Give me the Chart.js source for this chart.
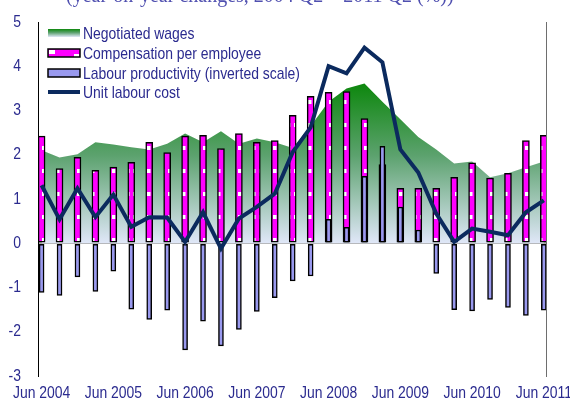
<!DOCTYPE html>
<html>
<head>
<meta charset="utf-8">
<script src="https://cdn.jsdelivr.net/npm/chart.js@4.4.0/dist/chart.umd.min.js"></script>
<style>
    html, body { margin: 0; padding: 0; background: #fff; }
    #wrap { width: 570px; height: 403px; }
</style>
</head>
<body>
<div id="wrap"><canvas id="myChart" width="570" height="403"></canvas></div>
<script>
// quarters, Jun 2004 - Jun 2011
var quarters = ["Jun 2004", "Sep 2004", "Dec 2004", "Mar 2005", "Jun 2005", "Sep 2005", "Dec 2005", "Mar 2006",
    "Jun 2006", "Sep 2006", "Dec 2006", "Mar 2007", "Jun 2007", "Sep 2007", "Dec 2007", "Mar 2008",
    "Jun 2008", "Sep 2008", "Dec 2008", "Mar 2009", "Jun 2009", "Sep 2009", "Dec 2009", "Mar 2010",
    "Jun 2010", "Sep 2010", "Dec 2010", "Mar 2011", "Jun 2011"];
var tickLabels = ["Jun 2004", "Jun 2005", "Jun 2006", "Jun 2007", "Jun 2008", "Jun 2009", "Jun 2010", "Jun 2011"];
var yTicks = [-3, -2, -1, 0, 1, 2, 3, 4, 5];

var negotiatedWages = [2.10, 1.94, 2.01, 2.28, 2.23, 2.17, 2.12, 2.25, 2.48, 2.28, 2.53, 2.25, 2.37, 2.28, 2.15,
    2.65, 3.20, 3.50, 3.61, 3.20, 2.80, 2.40, 2.12, 1.80, 1.85, 1.49, 1.58, 1.72, 1.85];
var compensation = [2.42, 1.69, 1.94, 1.65, 1.72, 1.83, 2.28, 2.05, 2.42, 2.44, 2.14, 2.48, 2.28, 2.32, 2.89,
    3.32, 3.41, 3.43, 2.82, 1.78, 1.24, 1.24, 1.24, 1.49, 1.82, 1.47, 1.58, 2.32, 2.44];
// already inverted, as plotted
var productivity = [-1.11, -1.18, -0.76, -1.09, -0.63, -1.49, -1.72, -1.51, -2.41, -1.76, -2.32, -1.95, -1.54, -1.23, -0.85,
    -0.74, 0.54, 0.36, 1.51, 2.19, 0.82, 0.30, -0.68, -1.50, -1.53, -1.27, -1.45, -1.63, -1.51];
var unitLabourCost = [1.31, 0.54, 1.24, 0.59, 1.10, 0.37, 0.59, 0.58, 0.03, 0.70, -0.12, 0.56, 0.82, 1.12, 2.06,
    2.62, 4.00, 3.84, 4.42, 4.09, 2.12, 1.60, 0.67, 0.03, 0.33, 0.26, 0.18, 0.70, 0.97];

var FONT = "'Liberation Sans', Arial, sans-serif";
var TEXT = "#2b2b8f";
var NARROW = 0.82;  // squeeze Liberation Sans to look like Arial Narrow

function points(values) {
    return values.map(function (v, i) { return { x: i, y: v }; });
}

// magenta bars with the little white dashes
function pinkPattern() {
    var c = document.createElement("canvas");
    c.width = 7;
    c.height = 23;
    var p = c.getContext("2d");
    p.fillStyle = "#ff00ff";
    p.fillRect(0, 0, 7, 23);
    p.fillStyle = "#ffffff";
    p.fillRect(0, 8, 3.5, 4);
    return p.createPattern(c, "repeat");
}

function wagesGradient(ctx, top, bottom) {
    var g = ctx.createLinearGradient(0, top, 0, bottom);
    g.addColorStop(0, "#0d870d");
    g.addColorStop(0.45, "#5ca26e");
    g.addColorStop(1, "#e0e7f8");
    return g;
}

function narrowText(ctx, text, x, y, align) {
    ctx.save();
    ctx.translate(x, y);
    ctx.scale(NARROW, 1);
    ctx.textAlign = align;
    ctx.fillText(text, 0, 0);
    ctx.restore();
}

var tickIndex = tickLabels.map(function (t) { return quarters.indexOf(t); });

var extras = {
    id: "extras",
    afterDraw: function (chart) {
        var ctx = chart.ctx, a = chart.chartArea;
        var xs = chart.scales.x, ys = chart.scales.y;
        ctx.save();
        // right frame line
        ctx.strokeStyle = "#6e6e6e";
        ctx.lineWidth = 1;
        ctx.beginPath();
        ctx.moveTo(a.right + 0.5, a.top);
        ctx.lineTo(a.right + 0.5, a.bottom + 1);
        ctx.stroke();

        // title, mostly above the picture
        ctx.fillStyle = "#5050b0";
        ctx.font = "20px 'Liberation Serif', serif";
        ctx.textBaseline = "alphabetic";
        ctx.textAlign = "left";
        ctx.fillText("(year-on-year changes, 2004 Q2 \u2013 2011 Q2 (%))", 66, 2);

        // tick labels, placed by the scales
        ctx.fillStyle = TEXT;
        ctx.font = "17px " + FONT;
        ctx.textBaseline = "middle";
        ys.ticks.forEach(function (t) {
            narrowText(ctx, String(t.value), a.left - 17, ys.getPixelForValue(t.value), "right");
        });
        ctx.textBaseline = "alphabetic";
        xs.ticks.forEach(function (t) {
            narrowText(ctx, quarters[t.value], xs.getPixelForValue(t.value), a.bottom + 22, "center");
        });

        // legend
        var ds = chart.data.datasets;
        var x0 = 48, w = 32, rows = [33, 53, 73, 92];
        var names = [ds[3].label, ds[1].label, ds[2].label, ds[0].label];
        ctx.textBaseline = "middle";
        names.forEach(function (n, i) {
            narrowText(ctx, n, x0 + w + 3, rows[i] + 1, "left");
        });
        // swatches
        ctx.fillStyle = wagesGradient(ctx, rows[0] - 4, rows[0] + 4);
        ctx.fillRect(x0, rows[0] - 4, w, 8);

        ctx.fillStyle = "#ff00ff";
        ctx.fillRect(x0, rows[1] - 4, w, 8);
        ctx.fillStyle = "#fff";
        ctx.fillRect(x0 + 1, rows[1] - 3, 6, 4);
        ctx.fillRect(x0 + w - 6, rows[1] + 1, 5, 3);
        ctx.strokeStyle = "#000";
        ctx.lineWidth = 1.5;
        ctx.strokeRect(x0, rows[1] - 4, w, 8);

        ctx.fillStyle = "#9999ee";
        ctx.fillRect(x0, rows[2] - 4, w, 8);
        ctx.strokeRect(x0, rows[2] - 4, w, 8);

        ctx.strokeStyle = "#0b2a5e";
        ctx.lineWidth = 4;
        ctx.beginPath();
        ctx.moveTo(x0, rows[3]);
        ctx.lineTo(x0 + w, rows[3]);
        ctx.stroke();
        ctx.restore();
    }
};

var ctx = document.getElementById("myChart").getContext("2d");
var myChart = new Chart(ctx, {
    data: {
        datasets: [{
            type: "line",
            label: "Unit labour cost",
            data: points(unitLabourCost),
            borderColor: "#0b2a5e",
            borderWidth: 4,
            pointRadius: 0,
            borderJoinStyle: "miter",
            tension: 0,
            fill: false,
            order: 0
        }, {
            type: "bar",
            label: "Compensation per employee",
            data: points(compensation),
            backgroundColor: pinkPattern(),
            borderColor: "#000",
            borderWidth: 1.5,
            borderSkipped: false,
            barThickness: 7,
            grouped: false,
            order: 2
        }, {
            type: "bar",
            label: "Labour productivity (inverted scale)",
            data: points(productivity),
            backgroundColor: "#9999ee",
            borderColor: "#000",
            borderWidth: 1.5,
            borderSkipped: false,
            barThickness: 5,
            grouped: false,
            order: 1
        }, {
            type: "line",
            label: "Negotiated wages",
            data: points(negotiatedWages),
            borderWidth: 0,
            pointRadius: 0,
            tension: 0,
            fill: "origin",
            backgroundColor: function (context) {
                var chart = context.chart;
                if (!chart.chartArea) return "#5ca26e";
                var y = chart.scales.y;
                return wagesGradient(chart.ctx, y.getPixelForValue(Math.max.apply(null, negotiatedWages)), y.getPixelForValue(0));
            },
            order: 3
        }]
    },
    options: {
        responsive: false,
        animation: false,
        layout: {
            padding: { left: 0, right: 24, top: 22, bottom: 0 }
        },
        scales: {
            x: {
                type: "linear",
                min: -0.2,
                max: 28.12,
                offset: false,
                grid: { display: false, offset: false },
                border: { display: false },
                afterBuildTicks: function (scale) {
                    scale.ticks = tickIndex.map(function (v) { return { value: v }; });
                },
                afterFit: function (scale) {
                    scale.height = 27;
                    scale.paddingLeft = 0;
                    scale.paddingRight = 0;
                },
                ticks: { display: false }
            },
            y: {
                min: -3,
                max: 5,
                afterBuildTicks: function (scale) {
                    scale.ticks = yTicks.map(function (v) { return { value: v }; });
                },
                afterFit: function (scale) {
                    scale.width = 38;
                    scale.paddingTop = 0;
                    scale.paddingBottom = 0;
                },
                grid: {
                    drawTicks: false,
                    lineWidth: 2,
                    color: function (c) {
                        return c.tick && c.tick.value === 0 ? "#a8a8a8" : "rgba(0,0,0,0)";
                    }
                },
                border: { display: true, color: "#000", width: 1 },
                ticks: { display: false }
            }
        },
        plugins: {
            legend: { display: false },
            tooltip: { enabled: false }
        }
    },
    plugins: [extras]
});
</script>
</body>
</html>
